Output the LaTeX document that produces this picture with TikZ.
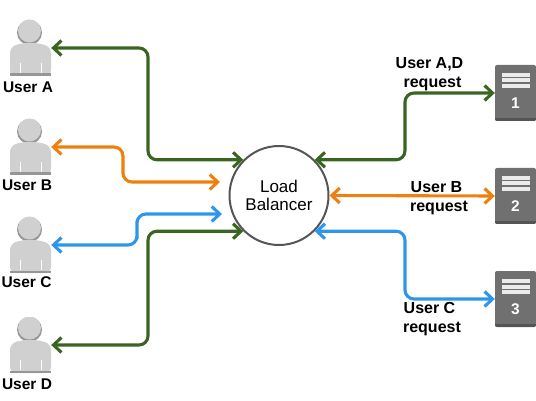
\documentclass[tikz,border=0pt]{standalone}
\usepackage{fontspec}
\setmainfont{Liberation Sans}
\usetikzlibrary{arrows.meta, positioning}
\definecolor{linkgreen}{RGB}{56,102,32}
\definecolor{linkorange}{RGB}{238,128,16}
\definecolor{linkblue}{RGB}{46,150,234}
\definecolor{usergray}{RGB}{208,208,208}
\definecolor{userdark}{RGB}{150,150,150}
\definecolor{srvgray}{RGB}{112,112,112}
\definecolor{srvdark}{RGB}{84,84,84}
\definecolor{ringgray}{RGB}{85,85,85}
\tikzset{
  usericon/.style={minimum width=41pt, minimum height=56pt, inner sep=0pt,
    path picture={
      \begin{scope}[shift=(path picture bounding box.center)]
        \fill[userdark] (-1,-15.5) circle (12.5);
        \fill[usergray] (-1,-17) circle (11.5);
        \fill[usergray, rounded corners=6pt] (-20.5,28) -- (-20.5,-1) -- (-9,-5) -- (8,-5) -- (20.5,-1) -- (20.5,28) -- cycle;
        \fill[userdark] (-20.5,25.5) rectangle (20.5,28);
        \draw[white, line width=0.7pt] (-10.5,15) -- (-10.5,25) (10.5,15) -- (10.5,25);
      \end{scope}
    }},
  server/.style={minimum width=41pt, minimum height=56pt, inner sep=0pt,
    rounded corners=2pt, fill=srvgray,
    label={[srvnum]center:#1},
    path picture={
      \begin{scope}[shift=(path picture bounding box.center), sharp corners]
        \fill[srvdark] (-20.5,25) rectangle (20.5,28);
        \fill[white!92!black] (-14,-20) rectangle (14,-16);
        \fill[white!92!black] (-14,-14.5) rectangle (14,-10.5);
        \fill[white!92!black] (-14,-9) rectangle (14,-5);
      \end{scope}
    }},
  srvnum/.style={text=white, yshift=-10pt, font=\fontsize{15.5}{18}\selectfont\bfseries},
  balancer/.style={circle, draw=ringgray, line width=2pt, fill=white, minimum size=99pt,
    inner sep=0pt, align=center, font=\fontsize{17}{17.5}\selectfont},
  txt/.style={align=center, inner sep=0pt, font=\fontsize{15.5}{19}\selectfont\bfseries},
  req/.style={txt, font=\fontsize{16}{19}\selectfont\bfseries},
  link/.style={{Straight Barb[length=8pt,width=15pt]}-{Straight Barb[length=8pt,width=15pt]},
    line width=3.1pt, rounded corners=9pt},
}
\begin{document}
\begin{tikzpicture}[x=1pt, y=-1pt]
  \useasboundingbox (0,0) rectangle (536,401);

  % Users
  \node[usericon] (userA) at (30.5,48) {};
  \node[usericon] (userB) at (30.5,147) {};
  \node[usericon] (userC) at (30.5,245) {};
  \node[usericon] (userD) at (30.5,345) {};
  \node[txt] (nameA) at (28,87) {User A};
  \node[txt] (nameB) at (27,185) {User B};
  \node[txt] (nameC) at (26.5,282) {User C};
  \node[txt] (nameD) at (27,384) {User D};

  % Balancer and servers
  \node[balancer] (lb) at (279,195.5) {Load\\Balancer};
  \node[server=1] (srv1) at (515.5,93) {};
  \node[server=2] (srv2) at (515.5,196) {};
  \node[server=3] (srv3) at (515.5,299) {};

  % Bends and free ends
  \coordinate (jA) at (148,100);
  \coordinate (jB) at (123,165);
  \coordinate (jC) at (137,230);
  \coordinate (jD) at (148,290);
  \coordinate (jR1) at (405,125);
  \coordinate (jR3) at (405,265);
  \coordinate (inB) at (220,182);
  \coordinate (inC) at (222,214);

  % Connectors
  \draw[link, linkgreen] (userA.east) -| (jA) |- (lb.135);
  \draw[link, linkgreen] (userD.east) -| (jD) |- (lb.225);
  \draw[link, linkorange] (userB.east) -| (jB) |- (inB);
  \draw[link, linkblue] (userC.east) -| (jC) |- (inC);
  \draw[link, linkgreen] (lb.45) -| (jR1) |- (srv1.west);
  \draw[link, linkorange] (lb.east) -- (srv2.west);
  \draw[link, linkblue] (lb.-45) -| (jR3) |- (srv3.west);

  % Request labels
  \node[req] (reqA) at (429.5,74) {User A,D\\\hspace*{6pt}request};
  \node[req] (reqB) at (436.5,198.5) {User B\\\hspace*{5pt}request};
  \node[req] (reqC) at (429.5,319.5) {User C\\\hspace*{5pt}request};
\end{tikzpicture}
\end{document}
